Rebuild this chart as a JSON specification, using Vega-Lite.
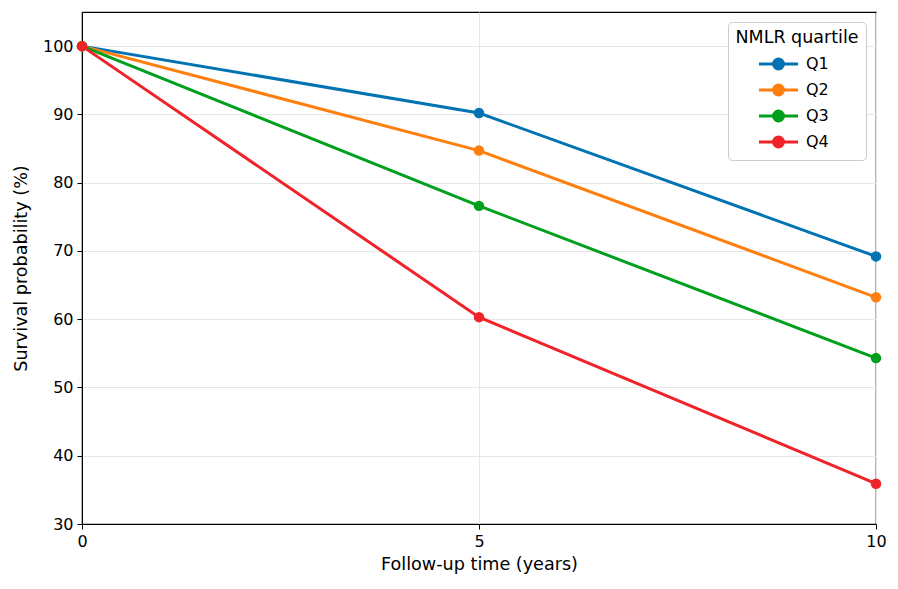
{
  "$schema": "https://vega.github.io/schema/vega-lite/v6.json",
  "width": 794,
  "height": 512,
  "autosize": {"type": "none"},
  "padding": {"left": 82, "top": 12, "right": 22, "bottom": 65},
  "background": "white",
  "config": {
    "font": "DejaVu Sans",
    "view": {"stroke": "black", "strokeWidth": 1.2},
    "axis": {
      "labelFont": "DejaVu Sans",
      "titleFont": "DejaVu Sans",
      "labelFontSize": 16,
      "titleFontSize": 17.6,
      "titleFontWeight": "normal",
      "labelColor": "black",
      "titleColor": "black",
      "domainColor": "black",
      "tickColor": "black",
      "tickSize": 5,
      "labelFlush": false,
      "gridColor": "#e6e6e6",
      "gridWidth": 1
    },
    "legend": {
      "labelFont": "DejaVu Sans",
      "titleFont": "DejaVu Sans"
    }
  },
  "data": {
    "values": [
      {"time": 0, "surv": 100, "quartile": "Q1"},
      {"time": 5, "surv": 90.2, "quartile": "Q1"},
      {"time": 10, "surv": 69.2, "quartile": "Q1"},
      {"time": 0, "surv": 100, "quartile": "Q2"},
      {"time": 5, "surv": 84.7, "quartile": "Q2"},
      {"time": 10, "surv": 63.2, "quartile": "Q2"},
      {"time": 0, "surv": 100, "quartile": "Q3"},
      {"time": 5, "surv": 76.6, "quartile": "Q3"},
      {"time": 10, "surv": 54.3, "quartile": "Q3"},
      {"time": 0, "surv": 100, "quartile": "Q4"},
      {"time": 5, "surv": 60.3, "quartile": "Q4"},
      {"time": 10, "surv": 35.9, "quartile": "Q4"}
    ]
  },
  "mark": {"type": "line", "strokeWidth": 3, "point": {"filled": true, "size": 110, "opacity": 1}},
  "encoding": {
    "x": {
      "field": "time",
      "type": "quantitative",
      "title": "Follow-up time (years)",
      "scale": {"domain": [0, 10], "nice": false},
      "axis": {"values": [0, 5, 10], "labelPadding": 4, "titlePadding": 6}
    },
    "y": {
      "field": "surv",
      "type": "quantitative",
      "title": "Survival probability (%)",
      "scale": {"domain": [30, 105], "nice": false, "zero": false},
      "axis": {"values": [30, 40, 50, 60, 70, 80, 90, 100], "labelPadding": 4, "titlePadding": 12}
    },
    "color": {
      "field": "quartile",
      "type": "nominal",
      "scale": {"domain": ["Q1", "Q2", "Q3", "Q4"], "range": ["#0173b2", "#ff7f0e", "#00a01e", "#f0222a"]},
      "legend": {
        "title": "NMLR quartile",
        "orient": "top-right",
        "offset": 10,
        "padding": 7,
        "titleFontSize": 17.5,
        "titleFontWeight": "normal",
        "titleColor": "black",
        "titleAnchor": "middle",
        "titlePadding": 4,
        "labelFontSize": 16,
        "labelColor": "black",
        "labelOffset": 14,
        "rowPadding": 1,
        "symbolType": "M-1.65,0H1.65M0,-0.42A0.42,0.42,0,1,1,0,0.42A0.42,0.42,0,1,1,0,-0.42Z",
        "symbolSize": 560,
        "symbolStrokeWidth": 3,
        "strokeColor": "#cccccc",
        "fillColor": "white",
        "cornerRadius": 4,
        "encode": {
          "symbols": {"update": {"fill": {"scale": "color", "field": "value"}, "fillOpacity": {"value": 1}}}
        }
      }
    }
  }
}
